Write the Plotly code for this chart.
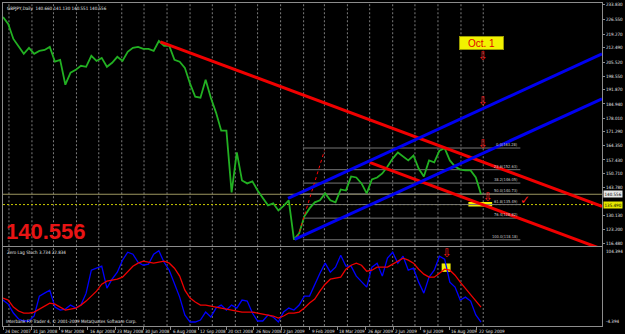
import pandas as pd
import plotly.graph_objects as go

# ---------------- data ----------------
symbol_title = "GBPJPY,Daily  140.660 141.130 140.551 140.556"
last_price = 140.556
stoch_title = "Zero Lag Stoch 3.734 22.834"
copyright_text = "Interbank FX Trader 4, \u00a9 2001-2009 MetaQuotes Software Corp."

week_dates = pd.date_range("2007-12-24", periods=93, freq="7D")

price_close = [
    227.7, 224.3, 216.9, 213.0, 209.6, 212.5, 209.6, 211.0, 211.5, 213.0,
    205.7, 206.6, 194.4, 200.3, 201.7, 203.7, 203.2, 208.6, 206.1, 207.6,
    203.2, 205.2, 208.1, 206.1, 210.6, 212.5, 213.0, 212.0, 212.0, 211.0,
    215.9, 213.5, 213.5, 206.6, 205.7, 202.7, 194.9, 188.5, 188.0, 196.8,
    188.0, 180.7, 171.8, 171.8, 141.5, 161.1, 147.3, 145.9, 146.9, 142.4,
    139.0, 135.1, 136.1, 132.6, 134.8, 137.5, 118.3, 121.4, 129.7, 133.6,
    136.6, 137.6, 141.0, 137.6, 136.6, 142.9, 142.4, 149.3, 148.8, 145.9,
    141.0, 147.8, 148.8, 150.8, 154.2, 158.1, 161.1, 159.1, 157.2, 159.6,
    153.2, 149.3, 157.2, 156.2, 162.0, 163.2, 157.2, 154.2, 152.7, 152.3,
    152.3, 148.8, 140.556,
]

stoch_main = [
    31.4, 25.9, 13.5, 5.3, 2.5, 2.5, 9.4, 36.9, 41.0, 45.2,
    21.8, 17.6, 19.0, 24.5, 20.4, 24.5, 41.0, 72.7, 75.5, 78.2,
    47.9, 60.3, 70.0, 86.5, 97.5, 94.8, 83.7, 79.6, 81.0, 94.8,
    99.5, 83.7, 72.7, 54.8, 35.5, 10.8, 1.1, 1.1, 3.9, 14.9,
    8.0, 20.4, 24.5, 17.6, 24.5, 20.4, 31.4, 30.0, 13.5, 2.5,
    2.5, 10.8, 8.0, 1.1, 14.9, 20.4, 17.6, 24.5, 36.9, 36.9,
    53.4, 68.6, 82.4, 70.0, 76.9, 93.4, 78.2, 78.2, 64.5, 56.2,
    49.3, 76.9, 82.4, 64.5, 89.3, 97.5, 82.4, 92.0, 72.7, 75.5,
    56.2, 41.0, 63.1, 72.7, 92.0, 87.9, 56.2, 49.3, 31.4, 35.5,
    30.0, 10.8, 1.1,
]

stoch_signal = [
    34.2, 31.4, 21.8, 16.3, 13.5, 13.5, 14.9, 19.0, 23.1, 27.3,
    25.9, 21.8, 17.6, 19.0, 20.4, 24.5, 30.0, 36.9, 43.8, 53.4,
    57.6, 58.9, 60.3, 63.1, 70.0, 78.2, 82.4, 85.1, 83.7, 82.4,
    83.7, 85.1, 82.4, 75.5, 64.5, 45.2, 34.2, 28.7, 24.5, 24.5,
    23.1, 21.8, 20.4, 19.0, 17.6, 16.3, 14.9, 14.9, 14.9, 13.5,
    12.1, 10.8, 9.4, 6.6, 9.4, 13.5, 13.5, 14.9, 20.4, 27.3,
    32.8, 43.8, 53.4, 60.3, 61.7, 63.1, 74.1, 79.6, 82.4, 79.6,
    71.3, 72.7, 76.9, 76.9, 76.9, 81.0, 85.1, 89.3, 86.5, 82.4,
    74.1, 67.2, 63.1, 63.1, 68.6, 74.1, 72.7, 65.8, 56.2, 47.9,
    39.7, 31.4, 21.8,
]

# trend / channel lines (date, price) end points
red_upper_dates = ["2008-07-23", "2010-03-10"]
red_upper_prices = [215.5, 134.6]
red_lower_dates = ["2009-05-01", "2010-03-10"]
red_lower_prices = [156.2, 113.6]
blue_upper_dates = ["2009-01-11", "2010-03-10"]
blue_upper_prices = [138.5, 209.6]
blue_lower_dates = ["2009-01-20", "2010-03-10"]
blue_lower_prices = [118.4, 187.5]
red_dotted_dates = ["2009-01-24", "2009-03-01"]
red_dotted_prices = [119.4, 162.0]

# fibonacci retracement
fib_ratios = ["0.0", "23.6", "38.2", "50.0", "61.8", "76.4", "100.0"]
fib_prices = [163.28, 152.63, 146.05, 140.73, 135.49, 128.82, 118.18]
fib_span = ["2009-01-31", "2009-11-20"]
support_level = 135.49

# highlight zones
zone_main_dates = ["2009-09-11", "2009-10-13"]
zone_main_prices = [134.6, 136.8]
zone_sub_dates = ["2009-08-06", "2009-08-18"]
zone_sub_values = [70.4, 82.0]

# markers / notes
arrow_dates = ["2009-10-01", "2009-10-01", "2009-10-01", "2009-10-08"]
arrow_prices = [208.4, 186.5, 165.5, 139.0]
sub_arrow_date = "2009-08-13"
sub_arrow_value = 96.1
check_date = "2009-11-26"
check_price = 137.6
note_text = "Oct. 1"
note_date = "2009-09-29"
note_price = 214.96

# axes
x_range = ["2007-12-24", "2010-03-10"]
price_range = [115.0, 234.565]
stoch_range = [-4.394, 104.394]
price_tick_labels = ["233.830", "226.550", "219.270", "212.490", "205.520", "198.550",
                     "191.870", "184.940", "178.010", "171.290", "164.350", "157.430",
                     "150.710", "143.780", "130.130", "123.200", "116.480"]
date_labels = ["24 Dec 2007", "31 Jan 2008", "9 Mar 2008", "16 Apr 2008", "23 May 2008",
               "30 Jun 2008", "6 Aug 2008", "12 Sep 2008", "20 Oct 2008", "26 Nov 2008",
               "2 Jan 2009", "9 Feb 2009", "18 Mar 2009", "26 Apr 2009", "2 Jun 2009",
               "9 Jul 2009", "16 Aug 2009", "22 Sep 2009"]
month_starts = pd.date_range("2008-01-01", "2009-10-01", freq="MS")

# ---------------- figure ----------------
SMALL = "Liberation Sans Narrow, Arial Narrow, DejaVu Sans Condensed, Liberation Sans, sans-serif"
FRAME = "#8c8c8c"
fig = go.Figure()

def line(xs, ys, color, width, dash="solid", xa="x", ya="y"):
    fig.add_trace(go.Scatter(x=xs, y=ys, mode="lines", xaxis=xa, yaxis=ya,
                             line=dict(color=color, width=width, dash=dash),
                             hoverinfo="skip", showlegend=False))

for r, p in zip(fib_ratios, fib_prices):
    line(fib_span, [p, p], "#767676", 1)

line(week_dates, price_close, "#22b022", 1.8)
line(red_dotted_dates, red_dotted_prices, "#ff0000", 1, "dot")
line(red_upper_dates, red_upper_prices, "#f00000", 3)
line(red_lower_dates, red_lower_prices, "#f00000", 3)
line(blue_upper_dates, blue_upper_prices, "#0000f0", 3)
line(blue_lower_dates, blue_lower_prices, "#0000f0", 3)

line(week_dates, stoch_main, "#0000ff", 1.3, xa="x2", ya="y2")
line(week_dates, stoch_signal, "#f00000", 1.3, xa="x2", ya="y2")

shapes = []
for m in month_starts:
    for yr in ("y domain", "y2 domain"):
        shapes.append(dict(type="line", xref="x", yref=yr, x0=m, x1=m, y0=0, y1=1,
                           line=dict(color="#9a9a9a", width=0.8, dash="2px,2px"), layer="below"))
shapes.append(dict(type="line", xref="x domain", yref="y", x0=0, x1=1, y0=last_price, y1=last_price,
                   line=dict(color="#9c9660", width=1), layer="below"))
shapes.append(dict(type="line", xref="x domain", yref="y", x0=0, x1=1, y0=support_level, y1=support_level,
                   line=dict(color="#c8c800", width=1, dash="2px,2px"), layer="below"))
shapes.append(dict(type="rect", xref="x", yref="y", x0=zone_main_dates[0], x1=zone_main_dates[1],
                   y0=zone_main_prices[0], y1=zone_main_prices[1], fillcolor="#f0f000",
                   line=dict(width=0), layer="below"))
shapes.append(dict(type="rect", xref="x2", yref="y2", x0=zone_sub_dates[0], x1=zone_sub_dates[1],
                   y0=zone_sub_values[0], y1=zone_sub_values[1], fillcolor="#f0f000",
                   line=dict(width=0), layer="below"))

ann = []
small = dict(family=SMALL, size=4.5, color="#e6e6e6")
ann.append(dict(text=symbol_title, xref="paper", yref="paper", x=0, y=1, xanchor="left", yanchor="top",
                xshift=2, yshift=-1, showarrow=False, font=small))
ann.append(dict(text=stoch_title, xref="paper", yref="y2 domain", x=0, y=1, xanchor="left", yanchor="top",
                xshift=2, yshift=-1, showarrow=False, font=small))
ann.append(dict(text=copyright_text, xref="paper", yref="paper", x=0, y=0, xanchor="left", yanchor="bottom",
                xshift=1, yshift=0, showarrow=False, font=small))
for lab in date_labels:
    ann.append(dict(text=lab, xref="x2", yref="paper", x=pd.to_datetime(lab, format="%d %b %Y"), y=0,
                    xanchor="left", yanchor="top", yshift=-1, showarrow=False, font=small))
for lab, yy in ((f"{stoch_range[1]:.3f}", 1), (f"{stoch_range[0]:.3f}", 0)):
    ann.append(dict(text=lab, xref="paper", yref="y2 domain", x=1, y=yy, xanchor="left",
                    yanchor="top" if yy == 1 else "bottom", xshift=2, showarrow=False, font=small))
for r, p in zip(fib_ratios, fib_prices):
    ann.append(dict(text=f"{r}({p:.2f})", xref="x", yref="y", x=fib_span[1], y=p, xanchor="right",
                    yanchor="bottom", yshift=-1, showarrow=False,
                    font=dict(family=SMALL, size=4.0, color="#c8c8c8")))
ann.append(dict(text=f"{last_price:.3f}", xref="paper", yref="y", x=1, y=last_price, xanchor="left",
                xshift=1, showarrow=False, bgcolor="#e8e8e8", borderpad=0.5,
                font=dict(family=SMALL, size=4.5, color="#000000")))
ann.append(dict(text=f"{support_level:.3f}", xref="paper", yref="y", x=1, y=support_level, xanchor="left",
                xshift=1, showarrow=False, bgcolor="#e6e600", borderpad=0.5,
                font=dict(family=SMALL, size=4.5, color="#000000")))
ann.append(dict(text=f"<b>{last_price:.3f}</b>", xref="paper", yref="y domain", x=0, y=0.061,
                xanchor="left", yanchor="middle", xshift=1, showarrow=False,
                font=dict(family="Liberation Sans, Arial, sans-serif", size=22, color="#e81414")))
ann.append(dict(text=note_text, xref="x", yref="y", x=note_date, y=note_price, showarrow=False,
                width=43, height=12, borderpad=0, bgcolor="#f2f200", bordercolor="#9a9a00", borderwidth=1,
                font=dict(family="Liberation Sans, Arial, sans-serif", size=10, color="#e00000")))
for d, p in zip(arrow_dates, arrow_prices):
    ann.append(dict(text="\u21e9", xref="x", yref="y", x=d, y=p, showarrow=False,
                    font=dict(family="DejaVu Sans", size=12, color="#ff1a1a")))
ann.append(dict(text="\u21e9", xref="x2", yref="y2", x=sub_arrow_date, y=sub_arrow_value, showarrow=False,
                font=dict(family="DejaVu Sans", size=12, color="#ff1a1a")))
ann.append(dict(text="\u2713", xref="x", yref="y", x=check_date, y=check_price, showarrow=False,
                font=dict(family="DejaVu Sans", size=12, color="#ff1a1a")))

price_tick_values = [float(t) for t in price_tick_labels]
date_tick_values = [pd.to_datetime(l, format="%d %b %Y") for l in date_labels]

fig.update_layout(
    width=625, height=334,
    margin=dict(l=2, r=17, t=2, b=8),
    paper_bgcolor="#000000", plot_bgcolor="#000000",
    showlegend=False,
    shapes=shapes, annotations=ann,
    xaxis=dict(domain=[0, 1], range=x_range, type="date", anchor="y", showticklabels=False,
               showgrid=False, zeroline=False, showline=True, mirror=True, linecolor=FRAME, linewidth=1),
    xaxis2=dict(domain=[0, 1], range=x_range, type="date", anchor="y2", matches="x", showticklabels=False,
                showgrid=False, zeroline=False, showline=True, mirror=True, linecolor=FRAME, linewidth=1,
                ticks="outside", ticklen=3, tickcolor=FRAME, tickvals=date_tick_values),
    yaxis=dict(domain=[0.2469, 1], range=price_range, side="right", anchor="x",
               tickvals=price_tick_values, ticktext=price_tick_labels,
               tickfont=dict(family=SMALL, size=4.5, color="#e6e6e6"),
               ticks="outside", ticklen=2, tickcolor=FRAME, showgrid=False, zeroline=False,
               showline=True, mirror=True, linecolor=FRAME, linewidth=1),
    yaxis2=dict(domain=[0, 0.2438], range=stoch_range, side="right", anchor="x2", showticklabels=False,
                showgrid=False, zeroline=False, showline=True, mirror=True, linecolor=FRAME, linewidth=1),
)

fig.write_html("out.html")
